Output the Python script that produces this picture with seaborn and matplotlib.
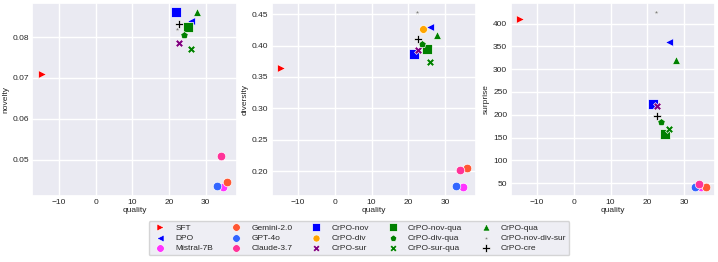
import matplotlib
matplotlib.use("Agg")
import matplotlib.pyplot as plt
import seaborn as sns

# model names, in legend order
models = ['SFT', 'DPO', 'Mistral-7B', 'Gemini-2.0', 'GPT-4o', 'Claude-3.7',
          'CrPO-nov', 'CrPO-div', 'CrPO-sur', 'CrPO-nov-qua', 'CrPO-div-qua',
          'CrPO-sur-qua', 'CrPO-qua', 'CrPO-nov-div-sur', 'CrPO-cre']

# quality (x) values
quality_nov = [-14.8, 25.9, 34.8, 36.0, 33.2, 34.2, 21.8, 25.0, 22.8, 25.1, 24.0, 25.9, 27.8, 22.3, 22.8]
quality_div = [-14.7, 25.9, 34.8, 35.9, 33.1, 34.2, 21.7, 23.9, 22.7, 25.1, 23.8, 25.9, 27.8, 22.3, 22.7]
quality_sur = [-14.5, 25.8, 34.4, 35.8, 33.0, 33.9, 21.5, 24.9, 22.6, 24.8, 23.8, 25.8, 27.6, 22.2, 22.7]

novelty = [0.0710, 0.0840, 0.0434, 0.0445, 0.0436, 0.0510, 0.0862, 0.0825, 0.0785,
           0.0825, 0.0806, 0.0772, 0.0860, 0.0820, 0.0832]
diversity = [0.364, 0.430, 0.175, 0.205, 0.1766, 0.202, 0.387, 0.427, 0.393,
             0.395, 0.4027, 0.3736, 0.4175, 0.454, 0.411]
surprise = [410, 359, 42, 42, 42, 48.5, 224, 160, 219, 158, 184, 168, 320, 426, 197]

colors = ['red', 'blue', '#ff33ff', '#ff5733', '#3366ff', '#ff3399',
          'blue', 'orange', 'purple', 'green', 'green', 'green', 'green', 'gray', 'black']
markers = ['>', '<', 'o', 'o', 'o', 'o', 's', 'o', 'X', 's', 'p', 'X', '^', '*', 'P']
sizes = [32, 32, 38, 38, 38, 38, 42, 32, 32, 42, 32, 32, 32, 14, 38]

sns.set_theme(style='darkgrid')
plt.rcParams['font.family'] = ['Liberation Sans', 'DejaVu Sans']

fig, axes = plt.subplots(1, 3, figsize=(7.18, 2.62), dpi=100)
panels = [(quality_nov, novelty, 'novelty'),
          (quality_div, diversity, 'diversity'),
          (quality_sur, surprise, 'surprise')]

for ax, (xs, ys, name) in zip(axes, panels):
    for i, m in enumerate(models):
        sns.scatterplot(x=[xs[i]], y=[ys[i]], ax=ax, color=colors[i], marker=markers[i],
                        s=sizes[i], label=m, legend=False)
    ax.set_xlabel('quality', fontsize=6, labelpad=0.5)
    ax.set_ylabel(name, fontsize=6, labelpad=2)
    ax.tick_params(labelsize=6, pad=2.5, length=0)
    ax.set_xticks([-10, 0, 10, 20, 30])

handles, labels = axes[0].get_legend_handles_labels()
fig.legend(handles, labels, loc='lower center', ncol=5, fontsize=6,
           bbox_to_anchor=(0.5, 0.01), frameon=True, markerscale=0.9,
           handletextpad=0.85, columnspacing=1.8, labelspacing=0.3,
           borderpad=0.35, handlelength=2)

fig.subplots_adjust(left=0.045, right=0.996, top=0.989, bottom=0.253, wspace=0.17)
fig.savefig('out.png', dpi=100)
